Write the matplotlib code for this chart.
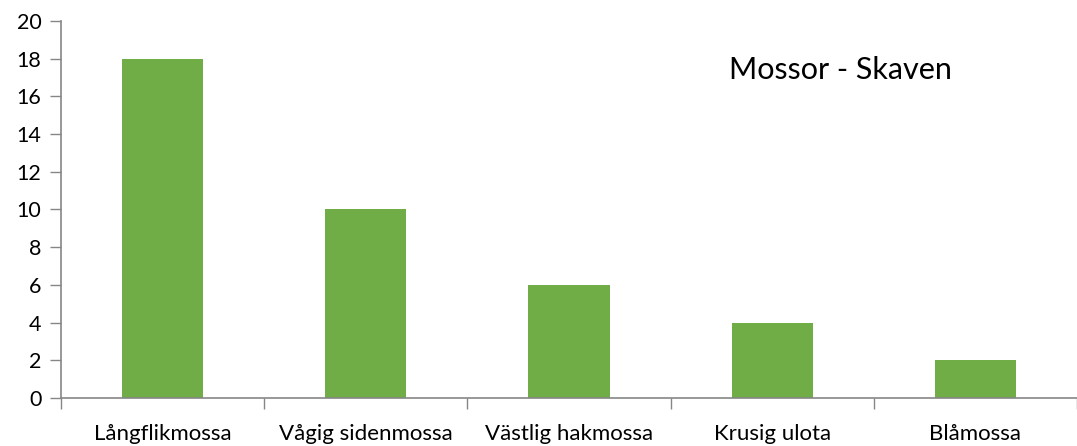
import numpy as np
import matplotlib; matplotlib.use("Agg"); import matplotlib.pyplot as plt

categories = ["Långflikmossa", "Vågig sidenmossa", "Västlig hakmossa", "Krusig ulota", "Blåmossa"]
counts = [18, 10, 6, 4, 2]
yticks = list(range(0, 21, 2))

plt.rcParams["font.family"] = ["Lato", "DejaVu Sans"]
AX = "#868686"

fig = plt.figure(figsize=(10.77, 4.46), dpi=100)
ax = fig.add_axes([0.0566, 0.1076, 0.9434, 0.8454])
x = np.arange(len(categories))
ax.bar(x, counts, width=0.4, color="#70AD47", zorder=2)
ax.set_xlim(-0.5, len(categories) - 0.5)
ax.set_ylim(0, 20)
ax.set_yticks(yticks)
ax.tick_params(axis="y", labelsize=15.5, length=8, width=1, color=AX, pad=6)

ax.set_xticks(np.arange(-0.5, len(categories), 1.0))
ax.set_xticklabels([])
ax.set_xticks(x, minor=True)
ax.set_xticklabels(categories, minor=True)
ax.tick_params(axis="x", which="major", length=8, width=1, color=AX)
ax.tick_params(axis="x", which="minor", length=0, labelsize=16, pad=19)

for s in ["top", "right"]:
    ax.spines[s].set_visible(False)
for s in ["left", "bottom"]:
    ax.spines[s].set_color(AX)
    ax.spines[s].set_linewidth(1.2)

ax.text(0.767, 0.87, "Mossor - Skaven", transform=ax.transAxes, ha="center", va="center", fontsize=22)
fig.savefig("out.png", dpi=100)
